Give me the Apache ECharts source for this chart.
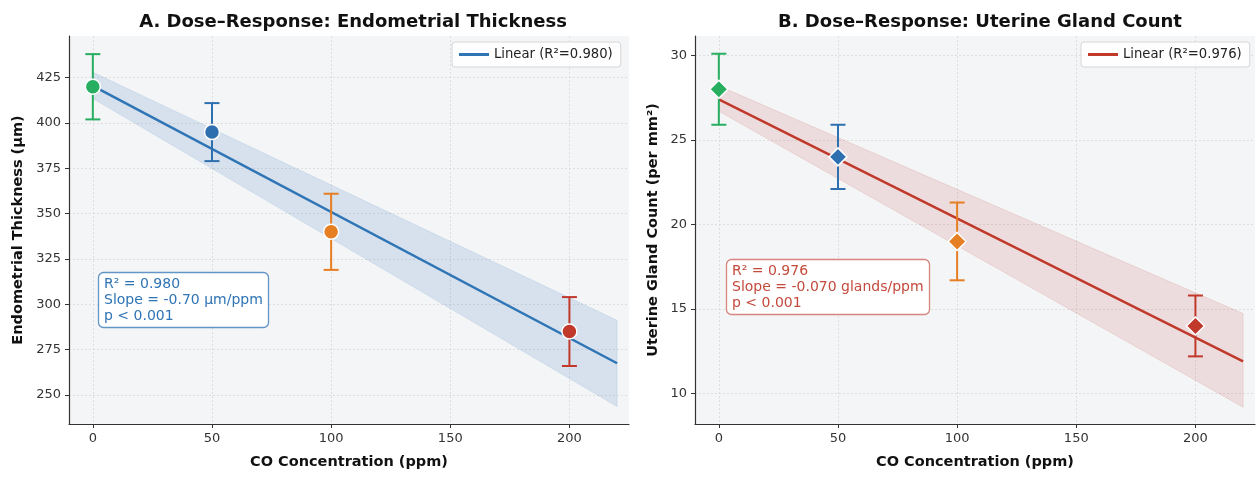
<!DOCTYPE html>
<html>
<head>
<meta charset="utf-8">
<script src="https://cdn.jsdelivr.net/npm/echarts@6/dist/echarts.min.js"></script>
<style>
html,body{margin:0;padding:0;background:#fff;}
#chart{width:1256px;height:477px;}
</style>
</head>
<body>
<div id="chart"></div>
<script>
// ---------- data ----------
const doses = [0, 50, 100, 200];
const pointColors = ['#27ae60', '#2e6fb0', '#e67e22', '#c0392b'];

// Panel A: endometrial thickness (µm)
const thickMean = [420, 395, 340, 285];
const thickErr  = [18, 16, 21, 19];
const thickFitX = [0, 220];
const thickFitY = [420.5, 267.5];
const thickBandX = [0, 220];
const thickBandUpper = [428, 291.2];
const thickBandLower = [413.5, 243.6];

// Panel B: uterine gland count (per mm²)
const glandMean = [28, 24, 19, 14];
const glandErr  = [2.1, 1.9, 2.3, 1.8];
const glandFitX = [0, 220];
const glandFitY = [27.4, 11.9];
const glandBandX = [0, 220];
const glandBandUpper = [28.2, 14.73];
const glandBandLower = [26.7, 9.19];

const xTicks = [0, 50, 100, 150, 200];
const thickTicks = [250, 275, 300, 325, 350, 375, 400, 425];
const glandTicks = [10, 15, 20, 25, 30];

const titleA = 'A. Dose\u2013Response: Endometrial Thickness';
const titleB = 'B. Dose\u2013Response: Uterine Gland Count';
const legendA = 'Linear (R\u00b2=0.980)';
const legendB = 'Linear (R\u00b2=0.976)';
const annotA = 'R\u00b2 = 0.980\nSlope = -0.70 \u03bcm/ppm\np < 0.001';
const annotB = 'R\u00b2 = 0.976\nSlope = -0.070 glands/ppm\np < 0.001';

const blue = '#2f74b5';
const red = '#c0392b';

// ---------- helpers ----------
function bandData(xs, lo, up) {
  const d = [];
  for (let i = 0; i < xs.length - 1; i++) d.push([xs[i], lo[i], up[i], xs[i+1], lo[i+1], up[i+1]]);
  return d;
}
function bandSeries(idx, xs, lo, up, fill, stroke) {
  return {
    type: 'custom', xAxisIndex: idx, yAxisIndex: idx, z: 1, silent: true,
    data: bandData(xs, lo, up),
    encode: { x: [0, 3], y: [1, 2, 4, 5] },
    renderItem: function (params, api) {
      const a = api.coord([api.value(0), api.value(1)]);
      const b = api.coord([api.value(3), api.value(4)]);
      const c = api.coord([api.value(3), api.value(5)]);
      const d = api.coord([api.value(0), api.value(2)]);
      return { type: 'polygon', shape: { points: [a, b, c, d] },
               style: { fill: fill, stroke: stroke, lineWidth: 1 } };
    }
  };
}
function errSeries(idx, means, errs) {
  return {
    type: 'custom', xAxisIndex: idx, yAxisIndex: idx, z: 4, silent: true,
    data: doses.map((x, i) => [x, means[i], errs[i], i]),
    encode: { x: 0, y: 1 },
    renderItem: function (params, api) {
      const x = api.value(0), y = api.value(1), e = api.value(2), ci = api.value(3);
      const t = api.coord([x, y + e]), b = api.coord([x, y - e]);
      const col = pointColors[ci];
      const cap = 7.5;
      const st = { stroke: col, lineWidth: 2 };
      return { type: 'group', children: [
        { type: 'line', shape: { x1: t[0], y1: t[1], x2: b[0], y2: b[1] }, style: st },
        { type: 'line', shape: { x1: t[0]-cap, y1: t[1], x2: t[0]+cap, y2: t[1] }, style: st },
        { type: 'line', shape: { x1: b[0]-cap, y1: b[1], x2: b[0]+cap, y2: b[1] }, style: st }
      ]};
    }
  };
}
function markerSeries(idx, means, symbol, size) {
  return {
    type: 'scatter', xAxisIndex: idx, yAxisIndex: idx, z: 5, silent: true,
    symbol: symbol, symbolSize: size,
    data: doses.map((x, i) => ({ value: [x, means[i]],
      itemStyle: { color: pointColors[i], borderColor: '#ffffff', borderWidth: 1.5, opacity: 1 } }))
  };
}
function fitSeries(idx, name, xs, ys, color) {
  return {
    type: 'line', name: name, xAxisIndex: idx, yAxisIndex: idx, z: 3, silent: true,
    showSymbol: false, symbol: 'none',
    lineStyle: { color: color, width: 2.5 }, itemStyle: { color: color },
    data: xs.map((x, i) => [x, ys[i]])
  };
}
const axisCommon = {
  axisLine: { show: true, onZero: false, lineStyle: { color: '#333', width: 1.2 } },
  axisTick: { show: true, length: 4, lineStyle: { color: '#333', width: 1 } },
  axisLabel: { color: '#333', fontSize: 13, fontFamily: 'DejaVu Sans' },
  splitLine: { show: true, lineStyle: { color: '#d9d9d9', type: [2, 2], width: 0.8 } },
  nameTextStyle: { color: '#111', fontSize: 14.5, fontWeight: 'bold', fontFamily: 'DejaVu Sans' }
};
function xAxis(idx) {
  return Object.assign({}, JSON.parse(JSON.stringify(axisCommon)), {
    type: 'value', gridIndex: idx, min: -10, max: 225,
    name: 'CO Concentration (ppm)', nameLocation: 'middle', nameGap: 31,
    axisTick: Object.assign({}, axisCommon.axisTick, { customValues: xTicks }),
    axisLabel: Object.assign({}, axisCommon.axisLabel, { customValues: xTicks, margin: 8 })
  });
}
function yAxis(idx, min, max, ticks, name, gap) {
  return Object.assign({}, JSON.parse(JSON.stringify(axisCommon)), {
    type: 'value', gridIndex: idx, min: min, max: max,
    name: name, nameLocation: 'middle', nameGap: gap, nameRotate: 90,
    axisTick: Object.assign({}, axisCommon.axisTick, { customValues: ticks }),
    axisLabel: Object.assign({}, axisCommon.axisLabel, { customValues: ticks, margin: 8 })
  });
}
function legendCfg(left, name) {
  return {
    left: left, top: 42, orient: 'vertical', data: [name],
    icon: 'rect', itemWidth: 30, itemHeight: 3, itemGap: 0,
    backgroundColor: 'rgba(255,255,255,0.85)', borderColor: '#d6d6d6', borderWidth: 1, borderRadius: 3,
    padding: [6, 8, 6, 7], selectedMode: false,
    textStyle: { color: '#222', fontSize: 13.2, fontFamily: 'DejaVu Sans' }
  };
}
function annotCfg(left, top, text, color, border) {
  return {
    text: text, left: left, top: top,
    backgroundColor: 'rgba(255,255,255,0.92)', borderColor: border, borderWidth: 1.3, borderRadius: 5,
    padding: [4, 6, 4, 6],
    textStyle: { color: color, fontSize: 14, fontWeight: 'normal', lineHeight: 16, fontFamily: 'DejaVu Sans' }
  };
}

const chart = echarts.init(document.getElementById('chart'), null, { renderer: 'canvas' });
chart.setOption({
  animation: false,
  backgroundColor: '#ffffff',
  textStyle: { fontFamily: 'DejaVu Sans' },
  title: [
    { text: titleA, left: 348, top: 8, textAlign: 'center',
      textStyle: { fontSize: 18, fontWeight: 'bold', color: '#111', fontFamily: 'DejaVu Sans' } },
    { text: titleB, left: 975, top: 8, textAlign: 'center',
      textStyle: { fontSize: 18, fontWeight: 'bold', color: '#111', fontFamily: 'DejaVu Sans' } },
    annotCfg(98, 272, annotA, blue, 'rgba(47,116,181,0.75)'),
    annotCfg(726, 259, annotB, '#c44a3c', 'rgba(192,57,43,0.6)')
  ],
  legend: [legendCfg(452, legendA), legendCfg(1081, legendB)],
  grid: [
    { left: 69, top: 36, width: 560, height: 388, show: true, backgroundColor: '#f4f5f7', borderWidth: 0 },
    { left: 695, top: 36, width: 560, height: 388, show: true, backgroundColor: '#f4f5f7', borderWidth: 0 }
  ],
  xAxis: [xAxis(0), xAxis(1)],
  yAxis: [
    yAxis(0, 234, 448, thickTicks, 'Endometrial Thickness (\u03bcm)', 43),
    yAxis(1, 8.2, 31.15, glandTicks, 'Uterine Gland Count (per mm\u00b2)', 34)
  ],
  series: [
    bandSeries(0, thickBandX, thickBandLower, thickBandUpper, 'rgba(47,116,181,0.15)', 'rgba(47,116,181,0.12)'),
    fitSeries(0, legendA, thickFitX, thickFitY, blue),
    errSeries(0, thickMean, thickErr),
    markerSeries(0, thickMean, 'circle', 15),
    bandSeries(1, glandBandX, glandBandLower, glandBandUpper, 'rgba(192,57,43,0.13)', 'rgba(192,57,43,0.12)'),
    fitSeries(1, legendB, glandFitX, glandFitY, red),
    errSeries(1, glandMean, glandErr),
    markerSeries(1, glandMean, 'diamond', 18)
  ]
});
</script>
</body>
</html>
